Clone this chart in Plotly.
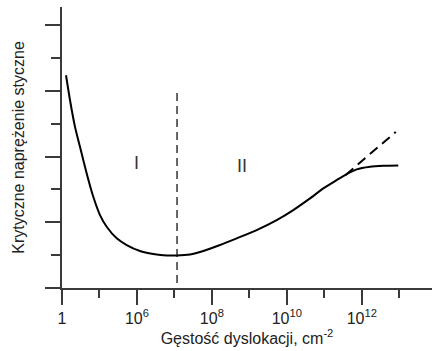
import plotly.graph_objects as go

# log10 of dislocation density (axis drawn with "1" at position 4, as in the reference)
curve_x = [4.107, 4.214, 4.347, 4.480, 4.659, 4.835, 5.014, 5.193, 5.460, 5.727, 6.082, 6.437, 6.704,
           7.061, 7.416, 7.771, 8.217, 8.662, 9.196, 9.730, 10.173, 10.619, 10.974, 11.331, 11.598,
           11.865, 12.220, 12.575, 12.975]
curve_y = [6.474, 5.714, 4.903, 4.295, 3.486, 2.775, 2.219, 1.863, 1.511, 1.307, 1.125, 1.033, 0.994,
           0.988, 1.018, 1.125, 1.307, 1.511, 1.763, 2.067, 2.371, 2.726, 3.030, 3.283, 3.465,
           3.608, 3.687, 3.717, 3.729]
ext_x = [11.57, 12.91]
ext_y = [3.44, 4.75]
div_x = [7.07, 7.07]
div_y = [0.15, 6.0]
tick_vals = [4, 6, 8, 10, 12]
tick_text = ["1", "10<sup>6</sup>", "10<sup>8</sup>", "10<sup>10</sup>", "10<sup>12</sup>"]
region_labels = ["I", "II"]
region_x = [6.0, 8.8]
region_y = [3.8, 3.7]

axis_col = "#3a3a3a"
font = "Arial, 'Liberation Sans', sans-serif"

fig = go.Figure()
fig.add_trace(go.Scatter(x=curve_x, y=curve_y, mode="lines",
                         line=dict(color="black", width=2, shape="spline", smoothing=0.6)))
fig.add_trace(go.Scatter(x=ext_x, y=ext_y, mode="lines",
                         line=dict(color="black", width=2, dash="10px,6px")))
fig.add_trace(go.Scatter(x=div_x, y=div_y, mode="lines",
                         line=dict(color="black", width=1.2, dash="8px,5px")))
for t, x, y in zip(region_labels, region_x, region_y):
    fig.add_annotation(x=x, y=y, text=t, showarrow=False,
                       font=dict(size=18, color="#333333", family=font))

fig.update_layout(
    width=432, height=351,
    margin=dict(l=62, r=0, t=7, b=63),
    plot_bgcolor="white", paper_bgcolor="white",
    showlegend=False,
    font=dict(family=font, size=16, color="#222222"),
    xaxis=dict(range=[4, 13.875], showgrid=False, zeroline=False,
               showline=True, linecolor=axis_col, linewidth=1.5,
               ticks="outside", ticklen=15, tickwidth=1.5, tickcolor=axis_col,
               tickvals=tick_vals, ticktext=tick_text,
               minor=dict(dtick=1, tick0=4, ticks="outside", ticklen=8, tickwidth=1.5, tickcolor=axis_col),
               tickfont=dict(size=16),
               title=dict(text="Gęstość dyslokacji, cm<sup>-2</sup>", standoff=0, font=dict(size=16))),
    yaxis=dict(range=[0, 8.55], showgrid=False, zeroline=False,
               showline=True, linecolor=axis_col, linewidth=1.5,
               ticks="outside", ticklen=15, tickwidth=1.5, tickcolor=axis_col,
               tick0=0, dtick=2, showticklabels=False,
               minor=dict(dtick=1, tick0=0, ticks="outside", ticklen=9, tickwidth=1.5, tickcolor=axis_col),
               title=dict(text="Krytyczne naprężenie styczne", standoff=17, font=dict(size=16))),
)
fig.write_html("out.html")
